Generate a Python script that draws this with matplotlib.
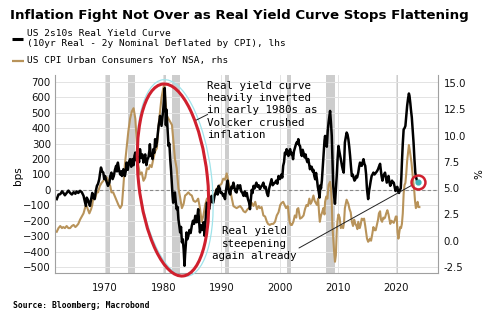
import matplotlib
matplotlib.use("Agg")
import matplotlib.pyplot as plt
from matplotlib.patches import Ellipse

# US 2s10s real yield curve, bps (lhs)
ry_years = [
    1961.7, 1962.0, 1962.3, 1962.6, 1962.8, 1963.1, 1963.4, 1963.7, 1964.0, 1964.3,
    1964.6, 1964.9, 1965.1, 1965.4, 1965.7, 1966.0, 1966.3, 1966.5, 1966.7, 1966.85,
    1967.0, 1967.2, 1967.4, 1967.6, 1967.8, 1968.0, 1968.2, 1968.4, 1968.6, 1968.8,
    1969.0, 1969.15, 1969.3, 1969.5, 1969.7, 1969.85, 1970.0, 1970.2, 1970.5, 1970.75,
    1970.9, 1971.1, 1971.3, 1971.5, 1971.7, 1971.9, 1972.05, 1972.2, 1972.4, 1972.6,
    1972.8, 1972.9, 1973.15, 1973.4, 1973.55, 1973.7, 1973.9, 1974.1, 1974.3, 1974.5,
    1974.7, 1974.9, 1975.05, 1975.2, 1975.4, 1975.7, 1975.85, 1976.0, 1976.2, 1976.4,
    1976.6, 1976.75, 1976.9, 1977.1, 1977.3, 1977.45, 1977.6, 1977.7, 1977.85, 1978.0,
    1978.15, 1978.3, 1978.45, 1978.6, 1978.75, 1978.9, 1979.05, 1979.2, 1979.35, 1979.45,
    1979.6, 1979.7, 1979.85, 1980.0, 1980.15, 1980.25, 1980.35, 1980.45, 1980.55, 1980.7,
    1980.8, 1980.9, 1981.05, 1981.2, 1981.35, 1981.5, 1981.6, 1981.7, 1981.85, 1982.0,
    1982.15, 1982.3, 1982.45, 1982.6, 1982.75, 1982.9, 1983.05, 1983.2, 1983.35, 1983.5,
    1983.65, 1983.75, 1983.9, 1984.0, 1984.15, 1984.3, 1984.5, 1984.7, 1984.9, 1985.1,
    1985.3, 1985.5, 1985.75, 1986.0, 1986.15, 1986.3, 1986.5, 1986.7, 1986.9, 1987.1,
    1987.3, 1987.5, 1987.7, 1987.9, 1988.1, 1988.3, 1988.45, 1988.6, 1988.8, 1989.0,
    1989.2, 1989.35, 1989.5, 1989.7, 1989.85, 1990.05, 1990.3, 1990.45, 1990.6, 1990.75,
    1990.9, 1991.05, 1991.2, 1991.35, 1991.5, 1991.7, 1991.85, 1992.05, 1992.2, 1992.4,
    1992.6, 1992.8, 1993.0, 1993.2, 1993.4, 1993.6, 1993.8, 1994.0, 1994.2, 1994.35,
    1994.55, 1994.75, 1994.9, 1995.05, 1995.2, 1995.35, 1995.5, 1995.7, 1995.85, 1996.0,
    1996.2, 1996.4, 1996.6, 1996.8, 1997.0, 1997.2, 1997.4, 1997.6, 1997.8, 1998.0,
    1998.2, 1998.4, 1998.6, 1998.8, 1999.0, 1999.2, 1999.4, 1999.6, 1999.8, 2000.05,
    2000.3, 2000.45, 2000.6, 2000.75, 2000.9, 2001.05, 2001.2, 2001.35, 2001.5, 2001.65,
    2001.8, 2001.95, 2002.1, 2002.3, 2002.45, 2002.6, 2002.75, 2002.9, 2003.05, 2003.2,
    2003.35, 2003.5, 2003.65, 2003.8, 2003.95, 2004.1, 2004.3, 2004.45, 2004.6, 2004.75,
    2004.9, 2005.05, 2005.2, 2005.35, 2005.5, 2005.65, 2005.8, 2005.95, 2006.1, 2006.25,
    2006.4, 2006.55, 2006.7, 2006.85, 2007.0, 2007.1, 2007.25, 2007.4, 2007.55, 2007.7,
    2007.8, 2007.95, 2008.1, 2008.25, 2008.4, 2008.55, 2008.66, 2008.8, 2008.95, 2009.1,
    2009.2, 2009.35, 2009.5, 2009.65, 2009.8, 2009.95, 2010.1, 2010.25, 2010.4, 2010.55,
    2010.7, 2010.85, 2011.0, 2011.1, 2011.2, 2011.35, 2011.5, 2011.65, 2011.8, 2011.95,
    2012.1, 2012.25, 2012.4, 2012.55, 2012.7, 2012.85, 2013.0, 2013.15, 2013.3, 2013.5,
    2013.65, 2013.8, 2013.95, 2014.1, 2014.25, 2014.4, 2014.55, 2014.7, 2014.85, 2015.0,
    2015.1, 2015.2, 2015.35, 2015.5, 2015.65, 2015.8, 2015.95, 2016.1, 2016.3, 2016.5,
    2016.7, 2016.9, 2017.05, 2017.25, 2017.4, 2017.5, 2017.65, 2017.8, 2017.95, 2018.1,
    2018.25, 2018.4, 2018.55, 2018.7, 2018.85, 2019.0, 2019.15, 2019.3, 2019.45, 2019.6,
    2019.75, 2019.9, 2020.05, 2020.2, 2020.35, 2020.5, 2020.65, 2020.8, 2020.9, 2021.0,
    2021.15, 2021.3, 2021.45, 2021.6, 2021.75, 2021.9, 2022.05, 2022.2, 2022.3, 2022.45,
    2022.55, 2022.7, 2022.85, 2023.0, 2023.15, 2023.3, 2023.45, 2023.6, 2023.75,
]
ry_bps = [
    -60, -30, -28, -10, -17, -35, -20, -5, -20, -30,
    -15, -25, -10, -20, -6, -15, -38, -70, -104, -50,
    -60, -80, -104, -60, -20, -50, -60, -10, 26, 40,
    69, 110, 145, 120, 112, 70, 90, 60, 26, 47,
    90, 112, 70, 90, 130, 156, 120, 177, 130, 100,
    120, 90, 134, 90, 120, 177, 130, 180, 199, 150,
    200, 160, 220, 242, 190, 210, 180, 264, 210, 230,
    177, 210, 230, 160, 200, 210, 250, 296, 220, 230,
    200, 264, 240, 329, 280, 307, 360, 415, 450, 480,
    440, 415, 470, 523, 600, 660, 560, 420, 520, 415,
    340, 285, 300, 199, 120, 26, -40, -83, -30, -17,
    -80, -125, -110, -190, -230, -276, -240, -340, -320, -385,
    -492, -420, -341, -276, -320, -300, -260, -280, -233, -200,
    -220, -168, -210, -125, -200, -276, -230, -260, -210, -298,
    -180, -83, -110, -125, -70, -39, -80, -83, -40, -20,
    4, -30, 26, 10, -20, -17, -40, -30, -60, -10,
    26, 60, 10, -20, -30, 20, 10, 47, 20, -10,
    -17, 30, 10, 30, -10, -20, -39, -10, -40, -20,
    -60, -83, -125, -60, 0, -20, 26, 10, 30, 47,
    20, 30, 4, 20, 30, 47, 10, 20, -20, -40,
    10, 40, 69, 30, 40, 47, 60, 40, 90, 70,
    100, 80, 156, 180, 242, 230, 264, 240, 220, 250,
    264, 230, 240, 199, 250, 270, 290, 307, 300, 329,
    290, 285, 240, 220, 260, 240, 210, 230, 199, 180,
    200, 170, 134, 150, 150, 120, 130, 90, 69, 110,
    69, 20, -10, -50, 30, 10, 60, 150, 250, 320,
    350, 300, 280, 380, 437, 480, 512, 440, 350, 150,
    26, -40, -90, 0, 90, 200, 285, 250, 220, 190,
    156, 130, 112, 200, 307, 340, 372, 360, 329, 280,
    220, 150, 90, 100, 80, 60, 69, 90, 80, 112,
    150, 177, 160, 156, 180, 199, 170, 156, 100, 4,
    -30, -60, -10, 26, 60, 90, 100, 112, 100, 110,
    120, 134, 150, 169, 120, 90, 60, 90, 100, 112,
    80, 47, 70, 90, 50, 26, 40, 60, 50, 47,
    20, -7, 10, 20, -10, -20, 0, 10, 80, 177,
    300, 393, 400, 415, 480, 545, 590, 625, 610, 560,
    520, 470, 390, 307, 200, 112, 80, 58, 52,
]

# US CPI urban consumers YoY NSA, % (rhs)
cpi_years = [
    1961.7, 1962.0, 1962.3, 1962.6, 1962.8, 1963.1, 1963.4, 1963.7, 1964.0, 1964.3,
    1964.6, 1964.9, 1965.1, 1965.4, 1965.7, 1966.0, 1966.3, 1966.5, 1966.7, 1966.9,
    1967.1, 1967.3, 1967.6, 1967.8, 1968.0, 1968.3, 1968.6, 1968.8, 1969.1, 1969.4,
    1969.7, 1970.0, 1970.3, 1970.6, 1970.9, 1971.1, 1971.4, 1971.7, 1972.0, 1972.3,
    1972.6, 1972.9, 1973.15, 1973.4, 1973.7, 1974.0, 1974.3, 1974.6, 1974.9, 1975.2,
    1975.45, 1975.7, 1976.0, 1976.3, 1976.6, 1976.9, 1977.2, 1977.5, 1977.7, 1978.0,
    1978.3, 1978.6, 1978.9, 1979.2, 1979.45, 1979.7, 1980.0, 1980.15, 1980.3, 1980.6,
    1980.9, 1981.2, 1981.5, 1981.75, 1982.0, 1982.3, 1982.6, 1982.9, 1983.2, 1983.5,
    1983.75, 1984.0, 1984.3, 1984.6, 1984.9, 1985.2, 1985.5, 1985.75, 1986.0, 1986.3,
    1986.6, 1986.9, 1987.2, 1987.5, 1987.8, 1988.05, 1988.3, 1988.6, 1988.9, 1989.2,
    1989.5, 1989.75, 1990.0, 1990.3, 1990.6, 1990.9, 1991.2, 1991.5, 1991.8, 1992.05,
    1992.3, 1992.6, 1992.9, 1993.2, 1993.5, 1993.8, 1994.1, 1994.5, 1994.9, 1995.2,
    1995.5, 1995.8, 1996.1, 1996.4, 1996.6, 1996.9, 1997.2, 1997.5, 1997.8, 1998.0,
    1998.3, 1998.6, 1998.9, 1999.2, 1999.5, 1999.8, 2000.1, 2000.35, 2000.6, 2000.85,
    2001.1, 2001.4, 2001.7, 2001.9, 2002.1, 2002.35, 2002.6, 2002.85, 2003.0, 2003.2,
    2003.5, 2003.8, 2004.1, 2004.35, 2004.6, 2004.85, 2005.1, 2005.3, 2005.5, 2005.8,
    2006.0, 2006.2, 2006.4, 2006.6, 2006.8, 2006.9, 2007.1, 2007.3, 2007.5, 2007.7,
    2007.8, 2008.0, 2008.2, 2008.4, 2008.66, 2008.8, 2008.95, 2009.05, 2009.2, 2009.35,
    2009.5, 2009.65, 2009.8, 2009.95, 2010.1, 2010.3, 2010.5, 2010.7, 2010.9, 2011.05,
    2011.2, 2011.5, 2011.8, 2012.0, 2012.2, 2012.4, 2012.6, 2012.8, 2013.0, 2013.2,
    2013.35, 2013.5, 2013.75, 2013.9, 2014.1, 2014.3, 2014.5, 2014.7, 2014.85, 2015.0,
    2015.2, 2015.35, 2015.5, 2015.7, 2015.9, 2016.1, 2016.3, 2016.5, 2016.7, 2016.9,
    2017.05, 2017.25, 2017.4, 2017.6, 2017.8, 2017.95, 2018.1, 2018.3, 2018.5, 2018.7,
    2018.9, 2019.0, 2019.2, 2019.4, 2019.6, 2019.8, 2019.95, 2020.1, 2020.25, 2020.4,
    2020.55, 2020.7, 2020.85, 2021.0, 2021.15, 2021.3, 2021.45, 2021.6, 2021.75, 2021.9,
    2022.05, 2022.2, 2022.35, 2022.5, 2022.65, 2022.8, 2022.95, 2023.1, 2023.25, 2023.4,
    2023.55, 2023.7, 2023.85, 2024.0,
]
cpi_pct = [
    0.85, 1.2, 1.4, 1.2, 1.3, 1.2, 1.4, 1.2, 1.2, 1.4,
    1.5, 1.3, 1.4, 1.6, 2.0, 2.3, 2.6, 3.0, 3.4, 3.2,
    2.9, 2.6, 3.0, 3.4, 4.2, 4.0, 4.7, 4.6, 5.2, 5.5,
    5.7, 6.0, 6.0, 5.6, 5.2, 4.6, 4.6, 4.2, 3.8, 3.4,
    3.1, 3.4, 5.2, 7.2, 8.8, 10.4, 11.6, 12.3, 12.6, 11.6,
    9.4, 7.2, 6.3, 6.5, 5.7, 6.0, 6.9, 6.8, 7.2, 7.0,
    7.8, 8.5, 8.8, 11.0, 12.3, 13.6, 14.5, 14.8, 13.8, 11.9,
    11.6, 11.3, 11.0, 9.4, 7.8, 6.9, 5.0, 4.1, 3.1, 3.5,
    4.3, 4.4, 4.6, 4.4, 4.3, 3.8, 3.7, 3.8, 4.0, 3.1,
    1.8, 2.4, 3.4, 4.0, 4.1, 4.0, 4.1, 4.3, 4.5, 5.0,
    5.0, 5.3, 5.4, 5.9, 5.8, 6.4, 5.6, 4.8, 4.0, 3.3,
    3.2, 3.1, 3.2, 3.3, 3.1, 2.8, 2.7, 3.0, 3.2, 3.6,
    3.3, 3.7, 3.0, 3.3, 3.1, 3.2, 2.4, 2.3, 1.8, 1.6,
    1.5, 1.6, 1.6, 1.8, 2.4, 2.7, 3.4, 3.6, 3.7, 3.4,
    3.1, 3.3, 1.8, 1.5, 1.5, 1.8, 2.4, 2.2, 3.0, 3.1,
    2.1, 2.2, 2.4, 3.0, 3.4, 3.3, 4.0, 3.5, 3.7, 4.3,
    3.8, 3.6, 3.4, 4.0, 2.4, 1.8, 2.4, 2.7, 3.1, 2.5,
    3.7, 4.2, 4.0, 5.3, 5.6, 5.0, 3.7, 1.5, 0.2, -1.0,
    -2.0, -1.4, 0.9, 2.0, 2.5, 2.2, 1.2, 1.4, 1.2, 1.7,
    3.1, 3.9, 3.5, 3.0, 2.7, 1.8, 1.4, 2.0, 1.6, 1.4,
    1.1, 1.8, 1.2, 1.5, 2.1, 2.0, 2.1, 1.4, 0.8, 0.2,
    -0.1, 0.0, 0.2, 0.0, 0.6, 1.3, 1.0, 1.0, 1.5, 2.0,
    2.6, 2.8, 2.0, 1.8, 2.2, 2.1, 2.2, 2.6, 2.9, 2.5,
    1.9, 1.6, 1.9, 1.8, 1.7, 2.0, 2.3, 2.3, 0.8, 0.2,
    0.8, 1.3, 1.2, 1.6, 2.6, 4.5, 5.3, 5.5, 6.4, 7.6,
    8.4, 9.1, 8.6, 8.0, 7.4, 6.5, 5.6, 4.9, 3.8, 3.1,
    3.3, 3.7, 3.2, 3.2,
]

# US recessions (shaded)
rec_start = [1969.92, 1973.88, 1980.04, 1981.54, 1990.54, 2001.21, 2007.96, 2020.13]
rec_end = [1970.88, 1975.21, 1980.54, 1982.88, 1991.21, 2001.88, 2009.46, 2020.29]

bps_ticks = list(range(-500, 701, 100))
pct_ticks = [-2.5, 0.0, 2.5, 5.0, 7.5, 10.0, 12.5, 15.0]
year_ticks = [1970, 1980, 1990, 2000, 2010, 2020]

BLACK = "#000000"
GOLD = "#b8935a"
GRID = "#e3e3e3"
SPINE = "#a0a0a0"
MONO = "DejaVu Sans Mono"

W, H = 500, 321
fig = plt.figure(figsize=(W / 100, H / 100), dpi=100)
fig.patch.set_facecolor("white")


def px(x, y):
    # pixel position (from top-left) -> figure fraction
    return x / W, 1 - y / H


pos = [55 / W, 1 - 273 / H, (438 - 55) / W, (273 - 75) / H]

# background axes: grid, recession bars, zero line
bg = fig.add_axes(pos, zorder=0)
bg.set_xlim(1961.4, 2027.2)
bg.set_ylim(-539, 745)
for s, e in zip(rec_start, rec_end):
    bg.axvspan(s, e, color="#cdcdcd", lw=0)
bg.set_yticks(bps_ticks)
bg.set_xticks(year_ticks)
bg.grid(True, color=GRID, lw=0.7)
bg.axhline(0, color="#8a8a8a", lw=0.8, ls=(0, (3, 2)))
bg.tick_params(length=0, labelleft=False, labelbottom=False)
for sp in bg.spines.values():
    sp.set_visible(False)

# right axis: CPI
ax2 = fig.add_axes(pos, zorder=1, sharex=bg)
ax2.patch.set_visible(False)
ax2.plot(cpi_years, cpi_pct, color=GOLD, lw=1.5)
ax2.set_ylim(-3.07, 15.76)
ax2.set_yticks(pct_ticks)
ax2.set_yticklabels(["%.1f" % t for t in pct_ticks])
ax2.yaxis.tick_right()
ax2.yaxis.set_label_position("right")
ax2.tick_params(axis="y", length=0, pad=4, labelsize=7.3, labelcolor="#111")
ax2.tick_params(axis="x", length=0, labelbottom=False)
for k in ["top", "left", "bottom"]:
    ax2.spines[k].set_visible(False)
ax2.spines["right"].set_color(SPINE)

# left axis: real yield curve
ax = fig.add_axes(pos, zorder=2, sharex=bg)
ax.patch.set_visible(False)
ax.plot(ry_years, ry_bps, color=BLACK, lw=1.8)
ax.set_ylim(-539, 745)
ax.set_yticks(bps_ticks)
ax.set_xticks(year_ticks)
ax.tick_params(axis="both", length=0, labelsize=7.3, labelcolor="#111")
ax.tick_params(axis="y", pad=3)
ax.tick_params(axis="x", pad=7)
ax.spines["top"].set_visible(False)
ax.spines["right"].set_visible(False)
ax.spines["left"].set_color(SPINE)
ax.spines["bottom"].set_color(SPINE)
ax.set_xlim(1961.4, 2027.2)

# end-point highlight
ax.plot(ry_years[-1], ry_bps[-1], "o", ms=10, mfc="none", mec="#d0202e", mew=1.8, zorder=5)
ax.plot(ry_years[-1], ry_bps[-1], "o", ms=3.5, color="#3fb3b8", zorder=6)

# connector from "steepening" note to the end point
ax.annotate("", xy=(ry_years[-1], ry_bps[-1]), xytext=(299, H - 248),
            textcoords="figure pixels",
            arrowprops=dict(arrowstyle="-", lw=0.7, color="#222", shrinkA=0, shrinkB=5))

# overlay for hand-drawn shapes
ov = fig.add_axes([0, 0, 1, 1], zorder=10)
ov.set_xlim(0, W)
ov.set_ylim(0, H)
ov.axis("off")
ov.add_patch(Ellipse((175, H - 178), 73, 198, angle=7, fill=False, ec="#9fe3ea", lw=0.9))
ov.add_patch(Ellipse((173, H - 180), 69, 193, angle=6, fill=False, ec="#d0202e", lw=2.2))
ov.plot([196.5, 207.5], [H - 120, H - 114.5], color="#222", lw=0.7)
# legend keys
ov.plot([12, 23], [H - 39, H - 39], color=BLACK, lw=2.2, solid_capstyle="butt")
ov.plot([12, 24], [H - 60.5, H - 60.5], color=GOLD, lw=1.6, solid_capstyle="butt")

# texts
fig.text(*px(10, 15), "Inflation Fight Not Over as Real Yield Curve Stops Flattening",
         fontsize=9.6, fontweight="bold", va="center", ha="left")
fig.text(*px(27, 33), "US 2s10s Real Yield Curve", family=MONO, fontsize=6.8, va="center")
fig.text(*px(27, 44), "(10yr Real - 2y Nominal Deflated by CPI), lhs", family=MONO,
         fontsize=6.8, va="center")
fig.text(*px(27, 60), "US CPI Urban Consumers YoY NSA, rhs", family=MONO, fontsize=6.8,
         va="center")
fig.text(*px(18, 176), "bps", rotation=90, fontsize=7.5, va="center", ha="center")
fig.text(*px(479, 174), "%", rotation=90, fontsize=7.5, va="center", ha="center")
fig.text(*px(207, 81), "Real yield curve\nheavily inverted\nin early 1980s as\nVolcker crushed\ninflation",
         family=MONO, fontsize=7.8, va="top", ha="left", linespacing=1.28, zorder=20)
fig.text(*px(254, 226), "Real yield\nsteepening\nagain already", family=MONO, fontsize=7.8,
         va="top", ha="center", multialignment="center", linespacing=1.33, zorder=20)
fig.text(*px(13, 305), "Source: Bloomberg; Macrobond", family=MONO, fontsize=5.8,
         fontweight="bold", va="center")

fig.savefig("out.png", dpi=100)
